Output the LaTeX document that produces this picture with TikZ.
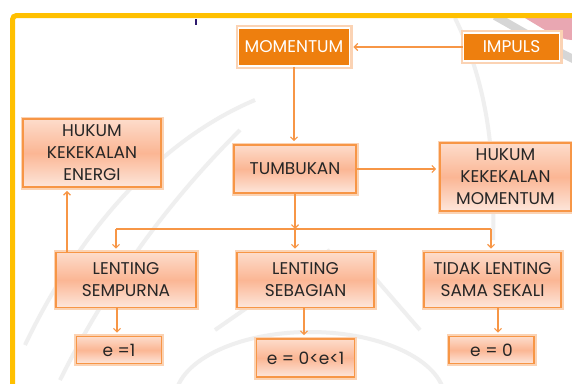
\documentclass[tikz,border=0pt]{standalone}
\usepackage{fontspec}
\setmainfont{Poppins}
\usetikzlibrary{arrows.meta}
\definecolor{frameY}{HTML}{FFC000}
\definecolor{bord}{HTML}{F79646}
\definecolor{glow}{HTML}{FBD3B4}
\definecolor{pkA}{HTML}{FDDCCB}
\definecolor{pkB}{HTML}{FBB694}
\definecolor{pkC}{HTML}{FDE6DB}
\definecolor{dorange}{HTML}{EE7F0E}
\definecolor{txt}{HTML}{262626}
\definecolor{conncol}{HTML}{F79646}
\definecolor{markcol}{HTML}{2E1A6E}
\definecolor{wm}{HTML}{EFEFEF}
\definecolor{wmdark}{HTML}{D6D6D6}
\definecolor{pinkpatch}{HTML}{E9A7B2}
\begin{document}
\begin{tikzpicture}[x=1pt,y=-1pt,
  every node/.style={font=\fontsize{17}{22}\selectfont, align=center, inner sep=0pt},
  pinkbox/.style={draw=bord, line width=1.6pt, top color=pkA, bottom color=pkC, middle color=pkB, text=txt,
     preaction={draw=glow, line width=5pt}},
  orangebox/.style={fill=dorange, draw=white, line width=1.8pt, text=white,
     preaction={draw=glow, line width=6pt}},
  conn/.style={draw=conncol, line width=1.2pt, -{Straight Barb[length=3.5pt,width=7pt]}, shorten >=3pt},
  plainline/.style={draw=conncol, line width=1.2pt},
  wmline/.style={draw=wm, line width=4pt}]
\useasboundingbox (0,0) rectangle (572,383);
\fill[white] (0,0) rectangle (572,383);
\begin{scope}
\clip (15,18) rectangle (572,383);
% faint watermark
\fill[pinkpatch] (525,18) .. controls (545,30) and (560,40) .. (572,40) -- (572,18) -- cycle;
\draw[wmdark, line width=8pt] (495,16) .. controls (520,30) and (545,45) .. (575,60);
\draw[wmline] (25,345) .. controls (80,230) and (160,140) .. (255,100);
\draw[wmline] (60,380) .. controls (110,280) and (170,200) .. (240,130);
\draw[wmline] (455,18) .. controls (490,90) and (495,160) .. (493,240);
\draw[wmline] (310,400) ellipse [x radius=135, y radius=68];
\draw[wmline] (215,330) -- (330,250);
\draw[wmline] (420,330) -- (355,255);
\end{scope}
\begin{scope}
\clip (0,0) rectangle (572,383);
\draw[frameY, line width=5pt, rounded corners=4pt] (12.5,400) -- (12.5,15.5) -- (600,15.5);
\end{scope}
\fill[markcol] (194.5,19) rectangle (197,25);

\node[orangebox, minimum width=111pt, minimum height=38pt] (mom) at (294,47) {MOMENTUM};
\node[orangebox, minimum width=96pt, minimum height=28pt] (imp) at (511.5,47) {IMPULS};
\node[pinkbox, minimum width=138pt, minimum height=68pt] (hke) at (92,153) {HUKUM\\KEKEKALAN\\ENERGI};
\node[pinkbox, minimum width=122pt, minimum height=48pt] (tum) at (295,169) {TUMBUKAN};
\node[pinkbox, minimum width=131pt, minimum height=68pt] (hkm) at (505.5,177) {HUKUM\\KEKEKALAN\\MOMENTUM};
\node[pinkbox, minimum width=140pt, minimum height=55pt] (ls) at (126,280) {LENTING\\SEMPURNA};
\node[pinkbox, minimum width=137pt, minimum height=55pt] (lsb) at (305.5,280) {LENTING\\SEBAGIAN};
\node[pinkbox, minimum width=137pt, minimum height=55pt] (tl) at (492.5,280) {TIDAK LENTING\\SAMA SEKALI};
\node[pinkbox, minimum width=85pt, minimum height=27pt] (e1) at (119,350) {e =1};
\node[pinkbox, minimum width=98pt, minimum height=38pt] (e2) at (305.5,358) {e = 0<e<1};
\node[pinkbox, minimum width=85pt, minimum height=27pt] (e3) at (491.5,350) {e = 0};

\coordinate (bar) at (295,229);
\coordinate (bl) at (116,229);
\coordinate (br) at (491,229);

\draw[conn] (imp.west) -- (mom.east);
\draw[conn] (mom.south) -- (mom.south |- tum.north);
\draw[conn] (tum.east) -- (tum.east -| hkm.west);
\draw[conn, shorten >=0pt] (tum.south) -- (tum.south |- bar);
\draw[plainline] (bl) -- (br);
\draw[conn] (bl) -- (bl |- ls.north);
\draw[conn] (tum.south |- bar) -- (tum.south |- lsb.north);
\draw[conn] (br) -- (br |- tl.north);
\draw[conn] ([xshift=-59pt]ls.north) -- ([xshift=-59pt]ls.north |- hke.south);
\draw[conn] ([xshift=-9pt]ls.south) -- ([xshift=-9pt]ls.south |- e1.north);
\draw[conn] ([xshift=-1.5pt]lsb.south) -- ([xshift=-1.5pt]lsb.south |- e2.north);
\draw[conn] ([xshift=5.5pt]tl.south) -- ([xshift=5.5pt]tl.south |- e3.north);
\end{tikzpicture}
\end{document}
